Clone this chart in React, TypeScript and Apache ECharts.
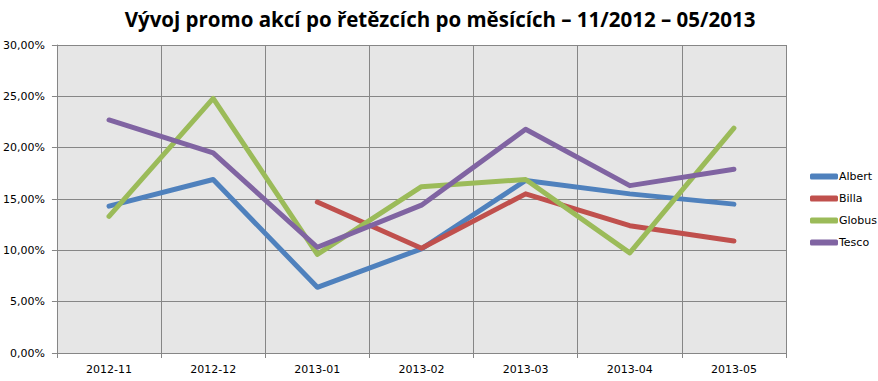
import React, { useEffect, useRef } from "react";
import * as echarts from "echarts";

const categories = ["2012-11", "2012-12", "2013-01", "2013-02", "2013-03", "2013-04", "2013-05"];
const albert = [14.3, 16.9, 6.4, 10.15, 16.8, 15.5, 14.5];
const billa = [null, null, 14.7, 10.2, 15.5, 12.4, 10.9];
const globus = [13.3, 24.8, 9.6, 16.2, 16.9, 9.75, 21.9];
const tesco = [22.7, 19.5, 10.3, 14.4, 21.8, 16.3, 17.9];

const seriesNames = ["Albert", "Billa", "Globus", "Tesco"];
const seriesData = [albert, billa, globus, tesco];
const colors = ["#4F81BD", "#C0504D", "#9BBB59", "#8064A2"];

export default function App() {
  const ref = useRef<HTMLDivElement>(null);
  useEffect(() => {
    const chart = echarts.init(ref.current!, null, { renderer: "svg" });
    chart.setOption({
      animation: false,
      backgroundColor: "#ffffff",
      title: {
        text: "Vývoj promo akcí po řetězcích po měsících – 11/2012 – 05/2013",
        left: 435,
        textAlign: "center",
        top: 3,
        textStyle: { fontFamily: "Open Sans", fontWeight: "bold", fontSize: 20.5, color: "#000" },
      },
      grid: { left: 50, right: 92, top: 45, bottom: 28, backgroundColor: "#E6E6E6", show: true, borderWidth: 0 },
      legend: {
        orient: "vertical",
        left: 805,
        top: 166,
        itemWidth: 28,
        itemHeight: 6,
        itemGap: 11,
        icon: "roundRect",
        textStyle: { fontFamily: "DejaVu Sans", fontSize: 11, color: "#000", padding: [0, 0, 0, -4] },
        data: seriesNames,
      },
      xAxis: {
        type: "category",
        data: categories,
        boundaryGap: true,
        axisLine: { lineStyle: { color: "#868686", width: 1 } },
        axisTick: { show: true, length: 5, lineStyle: { color: "#868686" } },
        axisLabel: { fontFamily: "DejaVu Sans", fontSize: 11, color: "#000", margin: 11 },
        splitLine: { show: true, lineStyle: { color: "#868686", width: 1 } },
      },
      yAxis: {
        type: "value",
        min: 0,
        max: 30,
        interval: 5,
        axisLine: { show: true, lineStyle: { color: "#868686", width: 1 } },
        axisTick: { show: true, length: 5, lineStyle: { color: "#868686" } },
        axisLabel: {
          fontFamily: "DejaVu Sans",
          fontSize: 11,
          color: "#000",
          margin: 12,
          formatter: (v: number) => v.toFixed(2).replace(".", ",") + "%",
        },
        splitLine: { show: true, lineStyle: { color: "#868686", width: 1 } },
      },
      series: seriesNames.map((name, i) => ({
        name,
        type: "line",
        data: seriesData[i],
        symbol: "none",
        connectNulls: false,
        color: colors[i],
        lineStyle: { width: 5, color: colors[i], cap: "round", join: "round" },
      })),
    });
    return () => chart.dispose();
  }, []);
  return <div ref={ref} style={{ width: 878, height: 381, position: "absolute", left: 0, top: 0 }} />;
}
